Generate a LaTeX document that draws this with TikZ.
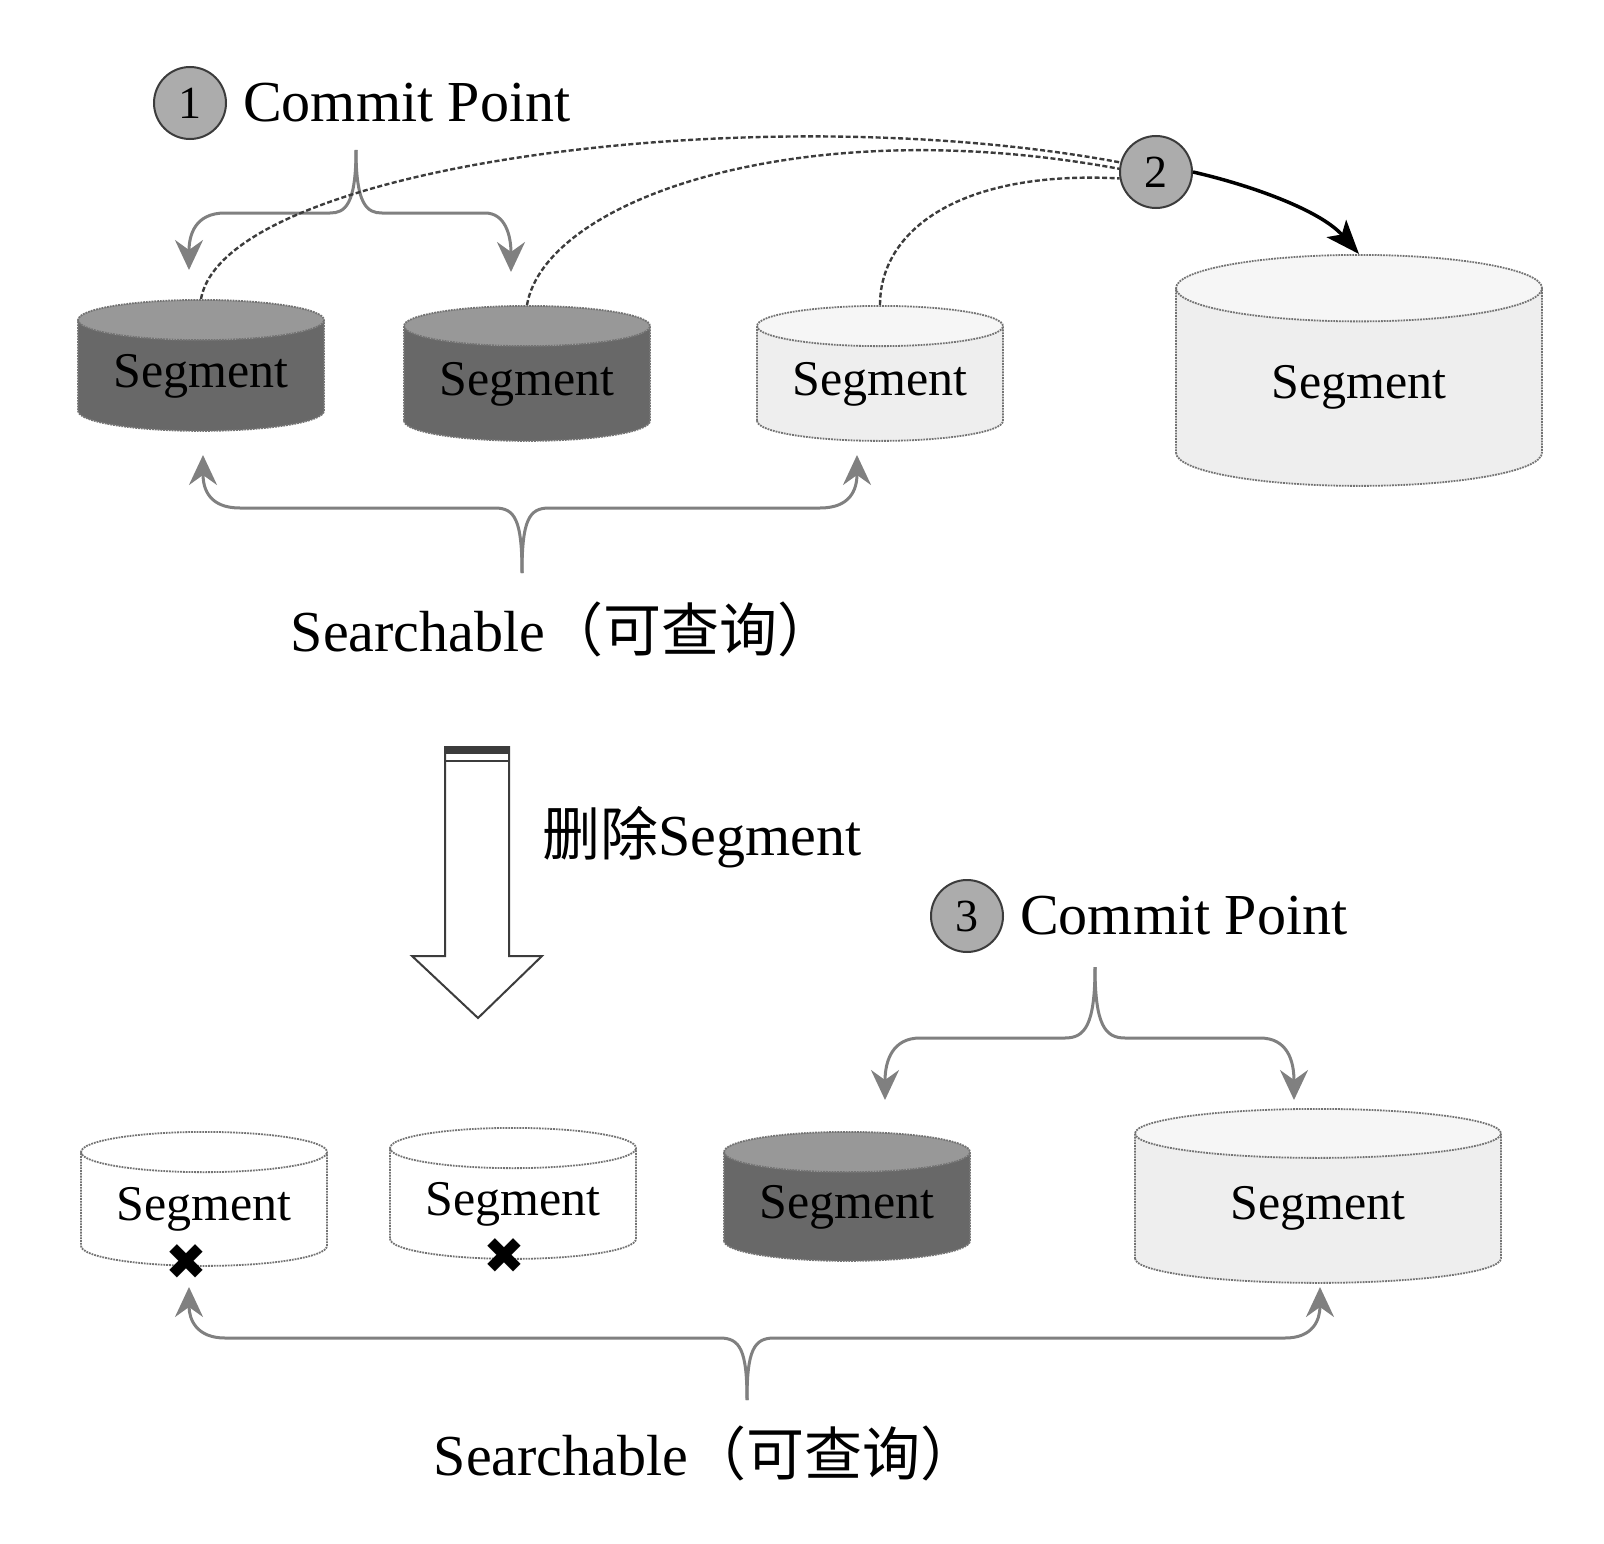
\documentclass[tikz,border=0pt]{standalone}
\usepackage{fontspec}
\setmainfont{Liberation Serif}
\newfontfamily\cjk{Noto Sans CJK SC}
\newfontfamily\symbolfont{DejaVu Sans}
\usetikzlibrary{arrows.meta, positioning, shapes.geometric, calc}
\definecolor{segdark}{RGB}{104,104,104}
\definecolor{segdarktop}{RGB}{152,152,152}
\definecolor{seglight}{RGB}{238,238,238}
\definecolor{seglighttop}{RGB}{246,246,246}
\definecolor{segline}{RGB}{115,115,115}
\definecolor{bracegray}{RGB}{128,128,128}
\definecolor{stepfill}{RGB}{172,172,172}
\definecolor{darkline}{RGB}{60,60,60}

\begin{document}
\begin{tikzpicture}[x=1pt, y=-1pt,
    seg/.style={cylinder, shape border rotate=90, shape aspect=0.23, anchor=north, draw=segline, densely dotted, line width=1.8pt, cylinder uses custom fill, inner sep=0pt, font=\fontsize{50}{60}\selectfont, minimum width=246pt, minimum height=131pt},
    segdark/.style={seg, cylinder body fill=segdark, cylinder end fill=segdarktop},
    seglight/.style={seg, cylinder body fill=seglight, cylinder end fill=seglighttop},
    segwhite/.style={seg, cylinder body fill=white, cylinder end fill=white},
    segbig/.style={seglight, shape aspect=0.38, minimum width=366pt, minimum height=231pt},
    stepnum/.style={circle, draw=darkline, line width=2pt, fill=stepfill, minimum size=72pt, inner sep=0pt, font=\fontsize{46}{46}\selectfont},
    headline/.style={font=\fontsize{58}{66}\selectfont, inner sep=0pt},
    brace/.style={-{Stealth[length=30pt, width=28pt, inset=10pt]}, draw=bracegray, line width=3pt},
    link/.style={dash pattern=on 5pt off 2.5pt, draw=darkline, line width=2.4pt},
    mergearrow/.style={-{Stealth[length=34pt, width=26pt, inset=8pt]}, line width=3.5pt, black},
    cross/.style={font=\symbolfont\fontsize{50}{50}\selectfont, inner sep=0pt}
]
\useasboundingbox (0,0) rectangle (1604,1544);

% before the merge
\node[stepnum] (n1) at (190,103) {1};
\node[headline, right=16pt of n1] (cp1) {Commit Point};
\node[segdark] (seg1) at (201,299) {Segment};
\node[segdark, minimum height=135pt] (seg2) at (527,305) {Segment};
\node[seglight, minimum height=135pt] (seg3) at (880,305) {Segment};
\node[segbig] (seg4) at (1359,254) {Segment};
\node[stepnum] (n2) at (1156,172) {2};
\node[headline] (search1) at (563,629) {Searchable{\cjk （可查询）}};

\coordinate (top1) at (356,150);
\coordinate (tip1a) at (189,270);
\coordinate (tip1b) at (511,272);
\draw[brace] (top1) .. controls (356,205) and (345,213) .. (330,213) -- (225,213)
  .. controls (195,213) and (189,235) .. (tip1a);
\draw[brace] (top1) .. controls (356,205) and (367,213) .. (382,213) -- (485,213)
  .. controls (505,213) and (511,235) .. (tip1b);

\coordinate (low1) at (522,573);
\coordinate (tip2a) at (203,455);
\coordinate (tip2b) at (857,455);
\draw[brace] (low1) .. controls (522,520) and (515,508) .. (495,508) -- (240,508)
  .. controls (210,508) and (203,490) .. (tip2a);
\draw[brace] (low1) .. controls (522,520) and (529,508) .. (549,508) -- (820,508)
  .. controls (850,508) and (857,490) .. (tip2b);

\draw[link] (seg1.north) .. controls (225,165) and (760,95) .. (n2.165);
\draw[link] (seg2.north) .. controls (545,200) and (800,110) .. (n2.175);
\draw[link] (seg3.north) .. controls (880,230) and (960,170) .. (n2.190);
\draw[mergearrow] (n2.east) .. controls (1250,185) and (1320,210) .. (seg4.north);

% delete step
\draw[line width=2pt, draw=darkline, fill=white] (445,747) -- (445,956) -- (412,956)
  -- (478,1018) -- (542,956) -- (509,956) -- (509,747) -- cycle;
\fill[darkline] (445,747) rectangle (509,754);
\draw[line width=2pt, draw=darkline] (445,761) -- (509,761);
\node[headline, anchor=west] (del) at (542,837) {{\cjk 删除}Segment};

% after the merge
\node[stepnum] (n3) at (967,916) {3};
\node[headline, right=16pt of n3] (cp3) {Commit Point};
\node[segwhite, minimum height=134pt] (seg5) at (204,1131) {Segment};
\node[segwhite] (seg6) at (513,1127) {Segment};
\node[segdark, minimum height=129pt] (seg7) at (847,1131) {Segment};
\node[segbig, shape aspect=0.28, minimum height=174pt] (seg8) at (1318,1108) {Segment};
\node[cross] (x5) at (186,1262) {✖};
\node[cross] (x6) at (504,1256) {✖};
\node[headline] (search2) at (706,1453) {Searchable{\cjk （可查询）}};

\coordinate (top3) at (1095,967);
\coordinate (tip3a) at (885,1100);
\coordinate (tip3b) at (1294,1100);
\draw[brace] (top3) .. controls (1095,1025) and (1085,1038) .. (1065,1038) -- (920,1038)
  .. controls (893,1038) and (885,1060) .. (tip3a);
\draw[brace] (top3) .. controls (1095,1025) and (1105,1038) .. (1125,1038) -- (1260,1038)
  .. controls (1287,1038) and (1294,1060) .. (tip3b);

\coordinate (low3) at (747,1400);
\coordinate (tip4a) at (189,1287);
\coordinate (tip4b) at (1320,1287);
\draw[brace] (low3) .. controls (747,1350) and (740,1338) .. (720,1338) -- (225,1338)
  .. controls (197,1338) and (189,1320) .. (tip4a);
\draw[brace] (low3) .. controls (747,1350) and (754,1338) .. (774,1338) -- (1285,1338)
  .. controls (1313,1338) and (1320,1320) .. (tip4b);
\end{tikzpicture}
\end{document}
